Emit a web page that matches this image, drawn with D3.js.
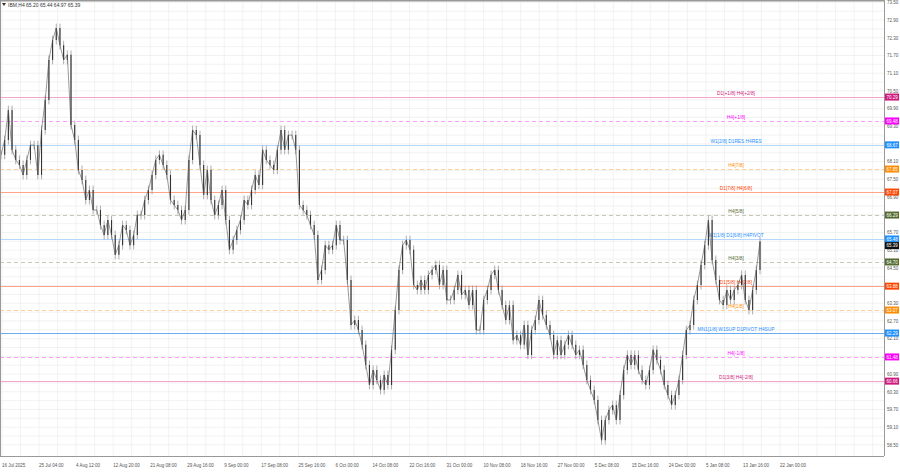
<!DOCTYPE html>
<html>
<head>
<meta charset="utf-8">
<script src="https://cdn.jsdelivr.net/npm/d3@7"></script>
<style>
  body { margin: 0; background: #fff; }
  text { font-family: "Liberation Sans", Arial, sans-serif; }
</style>
</head>
<body>
<script>
// closing prices, H4 bars (sampled), left to right
var closes = [68.33,68.83,69.85,68.50,68.16,67.99,67.65,68.16,68.66,68.66,67.65,69.17,70.19,71.55,72.22,72.63,72.05,71.55,71.72,69.34,
  68.83,67.82,67.48,66.80,67.14,66.46,66.46,65.95,65.61,66.12,65.61,64.94,65.27,65.95,65.78,65.27,65.61,66.29,66.29,66.80,
  67.14,67.65,68.16,68.33,67.99,67.65,66.80,66.63,66.46,66.12,66.46,68.16,69.17,69.00,67.99,66.97,67.82,66.80,66.29,66.63,
  67.14,66.12,65.11,65.44,65.78,66.12,66.80,66.63,67.14,67.65,67.31,68.50,68.16,67.99,67.82,68.50,69.17,68.50,69.00,69.00,
  68.50,66.63,66.46,66.29,65.95,65.61,64.09,64.43,65.27,65.11,65.27,65.95,65.44,65.44,64.09,62.56,62.73,62.39,61.89,61.21,
  60.53,61.04,60.70,60.36,60.87,60.53,61.72,63.07,64.43,65.27,65.44,65.11,63.92,63.75,64.09,63.75,64.26,64.43,64.60,63.92,
  64.43,63.41,63.41,63.75,64.26,63.58,63.75,63.24,63.75,62.39,62.39,63.41,63.75,64.26,64.43,63.75,63.24,62.73,63.24,62.05,
  62.22,61.89,62.56,61.55,62.39,62.73,63.41,62.90,62.56,62.22,61.55,62.05,61.55,61.89,62.22,61.89,61.55,61.72,61.21,60.70,
  60.36,60.02,59.34,58.66,59.34,59.68,59.85,59.34,60.19,61.04,61.55,61.21,61.55,61.04,60.70,60.53,61.04,61.72,61.38,61.04,
  60.53,60.19,59.85,60.19,60.70,61.55,62.39,62.56,63.41,63.92,64.60,65.27,66.12,64.77,64.09,63.41,63.24,63.75,63.41,63.75,
  63.92,64.26,63.41,63.07,63.75,64.43,65.39];

var timeLabels = ["16 Jul 2025","25 Jul 04:00","4 Aug 12:00","12 Aug 20:00","21 Aug 08:00","29 Aug 16:00","9 Sep 00:00",
  "17 Sep 08:00","25 Sep 16:00","6 Oct 00:00","14 Oct 08:00","22 Oct 16:00","31 Oct 00:00","10 Nov 08:00","18 Nov 16:00",
  "27 Nov 00:00","5 Dec 08:00","15 Dec 16:00","24 Dec 00:00","5 Jan 08:00","13 Jan 16:00","22 Jan 00:00"];

var levelPrices = [70.29,69.48,68.67,67.85,67.07,66.29,65.48,64.70,63.88,63.07,62.29,61.48,60.66];
var levelNames = ["D1[+1/8] H4[+2/8]","H4[+1/8]","W1[2/8] D1RES H4RES","H4[7/8]","D1[7/8] H4[6/8]","H4[5/8]",
  "W1[1/8] D1[6/8] H4PIVOT","H4[3/8]","D1[5/8] H4[2/8]","H4[1/8]","MN1[1/8] W1SUP D1PIVOT H4SUP","H4[-1/8]","D1[3/8] H4[-2/8]"];
var levelKinds = ["pink","magenta","blue","orange","red","olive","blue","olive","red","orange","blue2","magenta","pink"];

var lastPrice = 65.39;
var title = "IBM,H4  65.20 65.44 64.97 65.39";

var styles = {
  pink:    {line: "#f2a6cc", box: "#d0187c", dash: null},
  magenta: {line: "#ff9cff", box: "#ff00ff", dash: "4,3"},
  blue:    {line: "#b4d8ff", box: "#1e90ff", dash: null},
  blue2:   {line: "#6aaef2", box: "#1e90ff", dash: null},
  orange:  {line: "#ffd099", box: "#ff8c00", dash: "4,3"},
  red:     {line: "#ffa488", box: "#ff4500", dash: null},
  olive:   {line: "#c8c8b8", box: "#556b2f", dash: "4,3"}
};

var W = 900, H = 474, right = 884, bottom = 456;

var svg = d3.select("body").append("svg").attr("width", W).attr("height", H);

var y = d3.scaleLinear().domain([58.2, 73.58]).range([453.7, 0]);
var xt = d3.scaleLinear().domain([0, 21]).range([2, 780]);
var xb = d3.scaleLinear().domain([0, closes.length - 1]).range([1, 760]);

// grid
var g = svg.append("g");
g.selectAll(".vg").data(d3.range(0, 24, 0.5)).join("line")
  .attr("x1", d => xt(d)).attr("x2", d => xt(d)).attr("y1", 0).attr("y2", bottom)
  .attr("stroke", "#efefef").attr("stroke-width", 0.8);
g.selectAll(".hg").data(d3.range(58.5, 73.6, 0.3)).join("line")
  .attr("x1", 0).attr("x2", right).attr("y1", d => y(d)).attr("y2", d => y(d))
  .attr("stroke", "#efefef").attr("stroke-width", 0.8);

// level lines
var lv = svg.append("g");
lv.selectAll("line").data(levelPrices).join("line")
  .attr("x1", 0).attr("x2", right)
  .attr("y1", d => Math.round(y(d)) + 0.5).attr("y2", d => Math.round(y(d)) + 0.5)
  .attr("stroke", (d, i) => styles[levelKinds[i]].line)
  .attr("stroke-dasharray", (d, i) => styles[levelKinds[i]].dash)
  .attr("stroke-width", 1);
lv.selectAll("text").data(levelPrices).join("text")
  .attr("x", 736).attr("y", d => y(d) - 2)
  .attr("text-anchor", "middle").attr("font-size", 4.8)
  .attr("fill", (d, i) => styles[levelKinds[i]].box)
  .text((d, i) => levelNames[i]);

// bars: open = previous close
var bars = svg.append("g");
bars.selectAll("line.w").data(closes).join("line")
  .attr("x1", (d, i) => xb(i)).attr("x2", (d, i) => xb(i))
  .attr("y1", (d, i) => y(Math.max(d, i ? closes[i - 1] : d) + 0.15))
  .attr("y2", (d, i) => y(Math.min(d, i ? closes[i - 1] : d) - 0.15))
  .attr("stroke", "#8a8a8a").attr("stroke-width", 0.7);
bars.selectAll("line.b").data(closes).join("line")
  .attr("x1", (d, i) => xb(i)).attr("x2", (d, i) => xb(i))
  .attr("y1", (d, i) => y(i ? closes[i - 1] : d)).attr("y2", d => y(d))
  .attr("stroke", "#333").attr("stroke-width", 1.1);
bars.append("path")
  .attr("d", d3.line().x((d, i) => xb(i)).y(d => y(d))(closes))
  .attr("fill", "none").attr("stroke", "#555").attr("stroke-width", 0.6);

// frame
svg.append("line").attr("x1", 0).attr("x2", right).attr("y1", 0.5).attr("y2", 0.5).attr("stroke", "#999").attr("stroke-width", 2);
svg.append("line").attr("x1", 0.5).attr("x2", 0.5).attr("y1", 0).attr("y2", bottom).attr("stroke", "#999");
svg.append("line").attr("x1", right + 0.5).attr("x2", right + 0.5).attr("y1", 0).attr("y2", bottom).attr("stroke", "#999");
svg.append("line").attr("x1", 0).attr("x2", right).attr("y1", bottom + 0.5).attr("y2", bottom + 0.5).attr("stroke", "#999");

// right axis labels
var ax = svg.append("g");
ax.selectAll("text").data(d3.range(58.5, 73.6, 0.6)).join("text")
  .attr("x", 887).attr("y", d => y(d) + 1.8).attr("font-size", 4.5).attr("fill", "#555")
  .text(d => d.toFixed(2));

// bottom axis labels
ax.selectAll("text.t").data(timeLabels).join("text").attr("class", "t")
  .attr("x", (d, i) => xt(i)).attr("y", 467).attr("font-size", 4.5).attr("fill", "#555")
  .text(d => d);

// price boxes
var bx = svg.append("g");
var boxes = levelPrices.map((p, i) => ({p: p, c: styles[levelKinds[i]].box, dy: 0}));
boxes.push({p: lastPrice, c: "#111", dy: 4});
bx.selectAll("rect").data(boxes).join("rect")
  .attr("x", right + 1).attr("y", d => y(d.p) - 3.5 + d.dy).attr("width", 14).attr("height", 7)
  .attr("fill", d => d.c);
bx.selectAll("text").data(boxes).join("text")
  .attr("x", right + 2.5).attr("y", d => y(d.p) + 1.7 + d.dy).attr("font-size", 4.5).attr("fill", "#fff")
  .text(d => d.p.toFixed(2));

// title
svg.append("path").attr("d", "M2,3 L6,3 L4,6 Z").attr("fill", "#333");
svg.append("text").attr("x", 8).attr("y", 7).attr("font-size", 5).attr("fill", "#333").text(title);
</script>
</body>
</html>
